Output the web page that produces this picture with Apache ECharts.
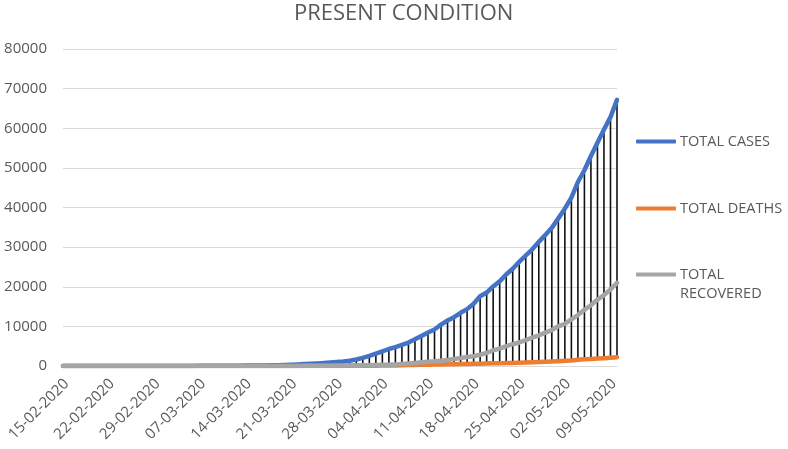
<!DOCTYPE html>
<html>
<head>
<meta charset="utf-8">
<script src="https://cdn.jsdelivr.net/npm/echarts@6/dist/echarts.min.js"></script>
<style>
  html, body { margin: 0; padding: 0; background: #fff; }
  #chart { width: 788px; height: 449px; }
</style>
</head>
<body>
<div id="chart"></div>
<script>
// 日期 15-02-2020 ~ 10-05-2020
const dates = [
  '15-02-2020','16-02-2020','17-02-2020','18-02-2020','19-02-2020','20-02-2020','21-02-2020','22-02-2020',
  '23-02-2020','24-02-2020','25-02-2020','26-02-2020','27-02-2020','28-02-2020','29-02-2020',
  '01-03-2020','02-03-2020','03-03-2020','04-03-2020','05-03-2020','06-03-2020','07-03-2020','08-03-2020',
  '09-03-2020','10-03-2020','11-03-2020','12-03-2020','13-03-2020','14-03-2020','15-03-2020','16-03-2020',
  '17-03-2020','18-03-2020','19-03-2020','20-03-2020','21-03-2020','22-03-2020','23-03-2020','24-03-2020',
  '25-03-2020','26-03-2020','27-03-2020','28-03-2020','29-03-2020','30-03-2020','31-03-2020',
  '01-04-2020','02-04-2020','03-04-2020','04-04-2020','05-04-2020','06-04-2020','07-04-2020','08-04-2020',
  '09-04-2020','10-04-2020','11-04-2020','12-04-2020','13-04-2020','14-04-2020','15-04-2020','16-04-2020',
  '17-04-2020','18-04-2020','19-04-2020','20-04-2020','21-04-2020','22-04-2020','23-04-2020','24-04-2020',
  '25-04-2020','26-04-2020','27-04-2020','28-04-2020','29-04-2020','30-04-2020',
  '01-05-2020','02-05-2020','03-05-2020','04-05-2020','05-05-2020','06-05-2020','07-05-2020','08-05-2020',
  '09-05-2020','10-05-2020'
]

const totalCases = [
  3, 3, 3, 3, 3, 3, 3, 3, 3, 3, 3, 3, 3, 3, 3,
  3, 5, 6, 28, 30, 31, 34, 39, 48, 63, 71, 81, 91, 102, 112, 126, 146, 171, 198, 256,
  334, 403, 497, 571, 657, 730, 883, 1019, 1139, 1326, 1635,
  2059, 2545, 3105, 3684, 4293, 4778, 5351, 5916, 6725, 7598, 8446, 9205, 10453, 11487, 12322,
  13430, 14352, 15722, 17615, 18539, 20080, 21370, 23077, 24530, 26283, 27890, 29451, 31324, 33062, 34863,
  37257, 39699, 42505, 46437, 49400, 52987, 56351, 59695, 62808, 67161
]

const totalDeaths = [
  0, 0, 0, 0, 0, 0, 0, 0, 0, 0, 0, 0, 0, 0, 0,
  0, 0, 0, 0, 0, 0, 0, 0, 0, 0, 0, 1, 2, 2, 2, 2, 3, 3, 4, 4,
  4, 7, 10, 11, 12, 20, 20, 25, 27, 38, 49,
  58, 72, 86, 99, 136, 150, 178, 226, 246, 288, 313, 356, 389, 422, 448,
  485, 521, 558, 592, 647, 683, 685, 726, 780, 825, 881, 939, 1008, 1079, 1154,
  1223, 1323, 1391, 1566, 1693, 1785, 1889, 1985, 2101, 2212
]

const totalRecovered = [
  0, 0, 0, 0, 0, 3, 3, 3, 3, 3, 3, 3, 3, 3, 3,
  3, 3, 3, 3, 3, 3, 3, 3, 4, 4, 4, 10, 10, 10, 13, 14, 15, 15, 20, 23,
  23, 25, 34, 40, 43, 67, 75, 96, 102, 137, 150,
  169, 191, 230, 285, 328, 400, 506, 620, 774, 954, 1080, 1190, 1344, 1515, 1765,
  2041, 2254, 2463, 2854, 3273, 3975, 4370, 5012, 5498, 5939, 6523, 7137, 7747, 8437, 9068,
  10018, 10633, 11782, 12847, 14183, 15331, 16776, 17887, 19301, 20969
]

const seriesNames = ['TOTAL CASES', 'TOTAL DEATHS', 'TOTAL RECOVERED']
const textColor = '#595959'
const fontName = 'Open Sans'

const chart = echarts.init(document.getElementById('chart'))

// 高低线：每天从最大值连到最小值
const hiLow = totalCases.map((c, i) => {
  const vals = [c, totalDeaths[i], totalRecovered[i]]
  return [i, Math.max(...vals), Math.min(...vals)]
})

const lineSeries = (name, data, color) => ({
  name: name,
  type: 'line',
  data: data,
  showSymbol: false,
  symbol: 'none',
  lineStyle: { color: color, width: 4.5, cap: 'round', join: 'round' },
  itemStyle: { color: color }
})

const legendItem = (name, top, formatter) => ({
  data: [name],
  orient: 'vertical',
  left: 636,
  top: top,
  padding: 0,
  icon: 'roundRect',
  itemWidth: 40,
  itemHeight: 4,
  itemGap: 0,
  formatter: formatter,
  textStyle: { color: textColor, fontSize: 14.5, fontFamily: fontName, padding: [0, 0, 0, -1] }
})

const option = {
  animation: false,
  title: {
    text: 'PRESENT CONDITION',
    left: 289,
    top: -2,
    textStyle: { color: textColor, fontSize: 22, fontWeight: 'normal', fontFamily: fontName }
  },
  legend: [
    legendItem(seriesNames[0], 134),
    legendItem(seriesNames[1], 201),
    legendItem(seriesNames[2], 267, () => 'TOTAL')
  ],
  graphic: [
    {
      type: 'text',
      left: 680,
      top: 286,
      style: { text: 'RECOVERED', fill: textColor, fontSize: 14.5, fontFamily: fontName }
    }
  ],
  grid: { left: 63, right: 171, top: 49, bottom: 83 },
  xAxis: {
    type: 'category',
    data: dates,
    boundaryGap: false,
    axisLine: { lineStyle: { color: '#D9D9D9' } },
    axisTick: { show: false },
    axisLabel: {
      interval: 6,
      rotate: 45,
      color: textColor,
      fontSize: 15,
      fontFamily: fontName,
      margin: 12,
      formatter: v => '{d|' + v + '}',
      rich: {
        d: { color: textColor, fontSize: 15, fontFamily: fontName, padding: [10, 0, 0, 0] }
      }
    }
  },
  yAxis: {
    type: 'value',
    min: 0,
    max: 80000,
    interval: 10000,
    axisLine: { show: false },
    axisTick: { show: false },
    splitLine: { lineStyle: { color: '#D9D9D9', width: 1 } },
    axisLabel: {
      color: textColor,
      fontSize: 15,
      fontFamily: fontName,
      margin: 16,
      formatter: v => String(v)
    }
  },
  series: [
    lineSeries(seriesNames[0], totalCases, '#4472C4'),
    lineSeries(seriesNames[1], totalDeaths, '#ED7D31'),
    lineSeries(seriesNames[2], totalRecovered, '#A5A5A5'),
    {
      name: 'hilow',
      type: 'custom',
      data: hiLow,
      encode: { x: 0, y: [1, 2] },
      silent: true,
      renderItem: (params, api) => {
        const top = api.coord([api.value(0), api.value(1)])
        const bot = api.coord([api.value(0), api.value(2)])
        return {
          type: 'line',
          shape: { x1: top[0], y1: top[1], x2: bot[0], y2: bot[1] },
          style: { stroke: '#111', lineWidth: 1.6 }
        }
      }
    }
  ]
}

chart.setOption(option)
</script>
</body>
</html>
